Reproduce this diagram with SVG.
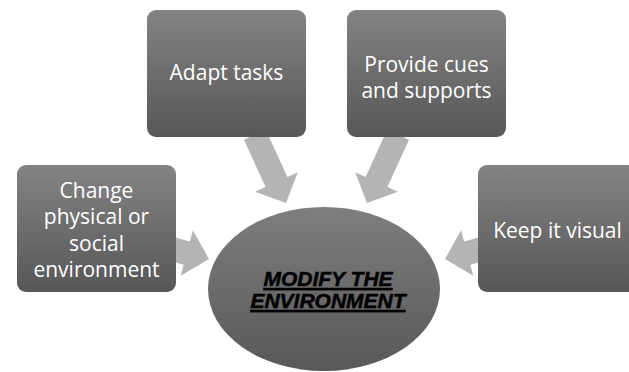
<svg xmlns="http://www.w3.org/2000/svg" width="629" height="372" viewBox="0 0 629 372">
  <defs>
    <linearGradient id="boxGrad" x1="0" y1="0" x2="0" y2="1">
      <stop offset="0" stop-color="#838383"/>
      <stop offset="1" stop-color="#575757"/>
    </linearGradient>
    <linearGradient id="ellGrad" x1="0" y1="0" x2="0" y2="1">
      <stop offset="0" stop-color="#7e7e7e"/>
      <stop offset="1" stop-color="#585858"/>
    </linearGradient>
    <path id="arrow" d="M -75,-12 L -23,-12 L -23,-23.5 L 0,0 L -23,23.5 L -23,12 L -75,12 Z"/>
    <path id="arrowShort" d="M -40,-12 L -23,-12 L -23,-23.5 L 0,0 L -23,23.5 L -23,12 L -40,12 Z"/>
  </defs>
  <style>
    .box { fill: url(#boxGrad); }
    .lbl { fill: #ffffff; font-family: "Open Sans", "Liberation Sans", sans-serif; font-size: 21px; text-anchor: middle; }
    .conn { fill: #b4b4b4; }
    .center-lbl { fill: #000000; stroke: #000000; stroke-width: 0.5; font-family: "Liberation Sans", Arial, sans-serif; font-size: 21px; font-weight: bold; font-style: italic; text-decoration: underline; text-anchor: middle; }
  </style>
  <rect width="629" height="372" fill="#ffffff"/>

  <g id="connectors">
    <use href="#arrow" class="conn" transform="translate(286,203) rotate(65.5)"/>
    <use href="#arrow" class="conn" transform="translate(367,203) rotate(114.5)"/>
    <use href="#arrowShort" class="conn" transform="translate(209,259) rotate(15)"/>
    <use href="#arrowShort" class="conn" transform="translate(445,259) rotate(165)"/>
  </g>

  <g id="node-center">
    <ellipse cx="324" cy="289" rx="116" ry="82" fill="url(#ellGrad)"/>
    <text class="center-lbl" x="328" y="286">MODIFY THE</text>
    <text class="center-lbl" x="328" y="308">ENVIRONMENT</text>
  </g>

  <g id="node-adapt">
    <rect class="box" x="147" y="10" width="159" height="127" rx="9"/>
    <text class="lbl" x="226.5" y="80">Adapt tasks</text>
  </g>

  <g id="node-cues">
    <rect class="box" x="347" y="10" width="159" height="127" rx="9"/>
    <text class="lbl" x="426.5" y="72">Provide cues</text>
    <text class="lbl" x="426.5" y="98">and supports</text>
  </g>

  <g id="node-change">
    <rect class="box" x="17" y="165" width="159" height="127" rx="9"/>
    <text class="lbl" x="96.5" y="198">Change</text>
    <text class="lbl" x="96.5" y="224">physical or</text>
    <text class="lbl" x="96.5" y="251">social</text>
    <text class="lbl" x="96.5" y="277">environment</text>
  </g>

  <g id="node-visual">
    <rect class="box" x="478" y="165" width="159" height="127" rx="9"/>
    <text class="lbl" x="557.5" y="238">Keep it visual</text>
  </g>
</svg>
